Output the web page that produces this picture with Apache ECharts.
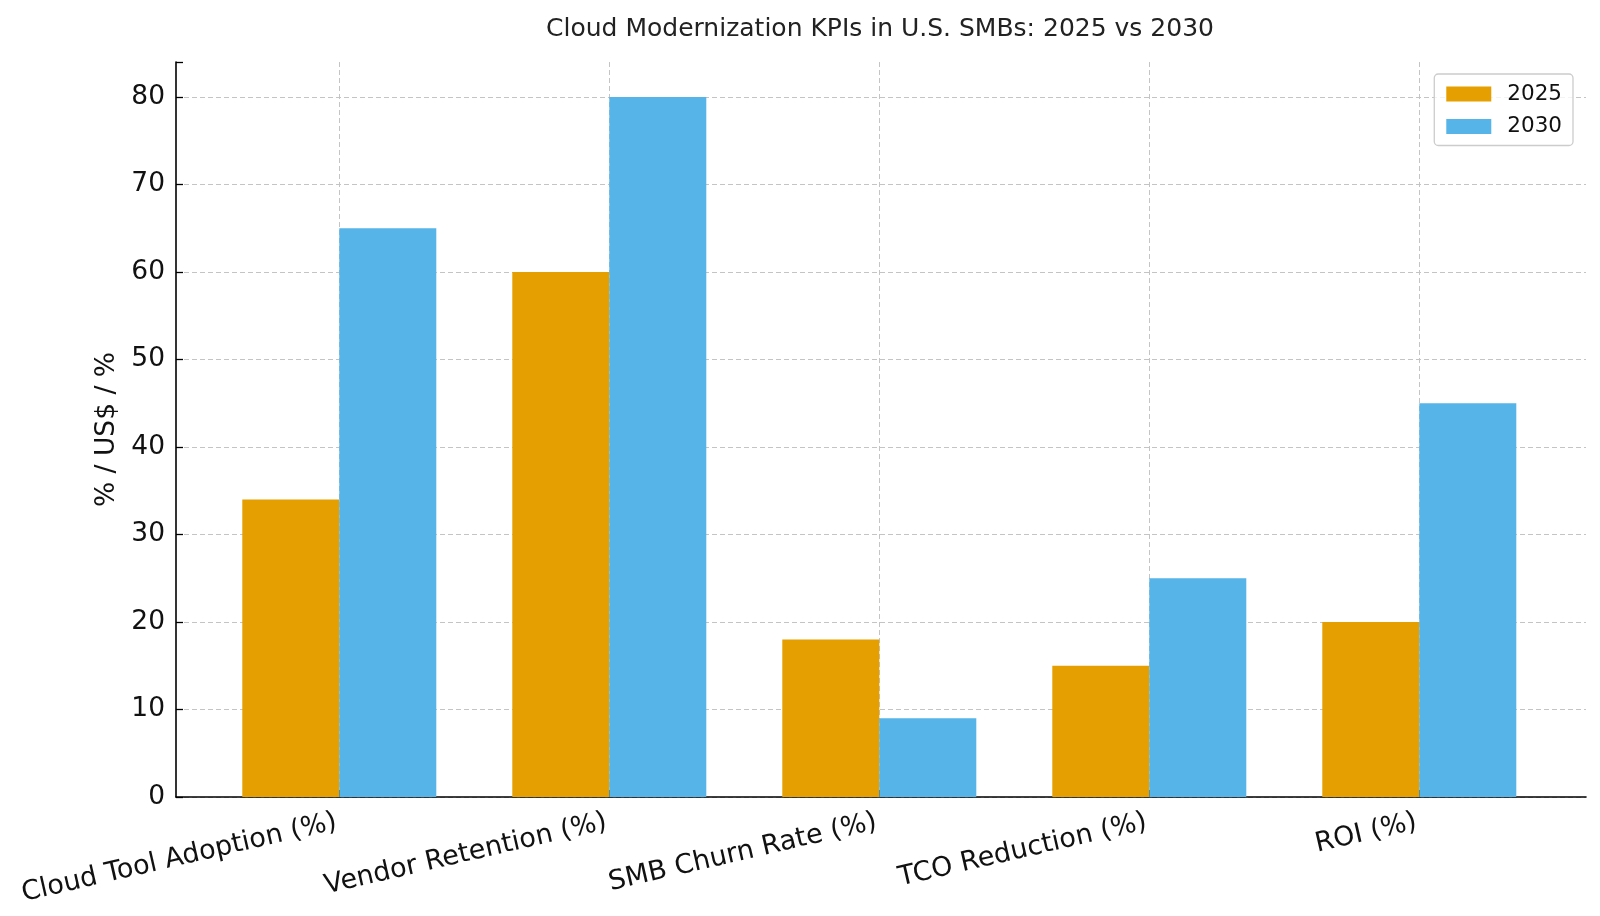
<!DOCTYPE html>
<html><head><meta charset="utf-8">
<script src="https://cdn.jsdelivr.net/npm/echarts@6/dist/echarts.min.js"></script>
<style>html,body{margin:0;padding:0;background:#fff}#c{width:1600px;height:916px}</style>
</head><body><div id="c"></div>
<script>
const categories = ['Cloud Tool Adoption (%)', 'Vendor Retention (%)', 'SMB Churn Rate (%)', 'TCO Reduction (%)', 'ROI (%)'];
const values2025 = [34, 60, 18, 15, 20];
const values2030 = [65, 80, 9, 25, 45];
const seriesNames = ['2025', '2030'];
const yTicks = [0, 10, 20, 30, 40, 50, 60, 70, 80];

const FONT = 'DejaVu Sans';
const chart = echarts.init(document.getElementById('c'), null, {renderer: 'canvas'});
const gridTop = 62, gridBottom = 119;
chart.setOption({
  animation: false,
  textStyle: {fontFamily: FONT},
  title: {
    text: 'Cloud Modernization KPIs in U.S. SMBs: 2025 vs 2030',
    left: 875, top: 12, textAlign: 'center',
    textStyle: {fontFamily: FONT, fontSize: 25, fontWeight: 'normal', color: '#222'}
  },
  legend: {
    data: seriesNames,
    orient: 'vertical',
    icon: 'rect',
    right: 27, top: 74,
    itemWidth: 45, itemHeight: 15, itemGap: 10.5,
    padding: [9, 11, 8, 12],
    borderColor: '#ccc', borderWidth: 1.3, borderRadius: 4,
    backgroundColor: 'rgba(255,255,255,0.8)',
    textStyle: {fontFamily: FONT, fontSize: 21.5, color: '#111', padding: [0, 0, 0, 11]}
  },
  grid: [
    {left: 176, right: 14, top: gridTop, bottom: gridBottom, outerBoundsMode: 'none', containLabel: false},
    {left: 339.3, right: 180.7, top: gridTop, bottom: gridBottom, outerBoundsMode: 'none', containLabel: false}
  ],
  xAxis: [
    {gridIndex: 0, type: 'value', min: 0, max: 1,
     axisLine: {show: true, lineStyle: {color: '#000', width: 1.6}},
     axisTick: {show: false}, axisLabel: {show: false}, splitLine: {show: false}},
    {gridIndex: 1, type: 'category', data: categories, boundaryGap: false,
     axisLine: {show: false},
     axisTick: {show: true, inside: true, length: 7, lineStyle: {color: '#000', width: 1.3}},
     splitLine: {show: true, lineStyle: {color: '#c4c4c4', type: [5, 3], width: 1}},
     axisLabel: {rotate: 13, fontFamily: FONT, fontSize: 27, color: '#111', margin: 24, interval: 0,
       padding: [0, 3, 0, 0]}}
  ],
  yAxis: [
    {gridIndex: 0, type: 'value', min: 0, max: 84, interval: 10,
     name: '% / US$ / %', nameLocation: 'middle', nameGap: 52, nameRotate: 90,
     nameTextStyle: {fontFamily: FONT, fontSize: 26.5, color: '#111'},
     axisLine: {show: true, lineStyle: {color: '#000', width: 1.6}},
     axisTick: {show: true, inside: true, length: 7, lineStyle: {color: '#000', width: 1.3}},
     axisLabel: {fontFamily: FONT, fontSize: 26.5, color: '#111', margin: 11,
       formatter: v => yTicks.includes(v) ? String(v) : ''},
     splitLine: {show: true, showMaxLine: false, lineStyle: {color: '#c4c4c4', type: [5, 3], width: 1}}},
    {gridIndex: 1, type: 'value', min: 0, max: 84, show: false, splitLine: {show: false}}
  ],
  series: [
    {name: seriesNames[0], type: 'bar', xAxisIndex: 1, yAxisIndex: 1, data: values2025,
     barWidth: 97, barGap: '0%', clip: false, itemStyle: {color: '#E69F00'}},
    {name: seriesNames[1], type: 'bar', xAxisIndex: 1, yAxisIndex: 1, data: values2030,
     barWidth: 97, barGap: '0%', clip: false, itemStyle: {color: '#56B4E9'}}
  ]
});
</script></body></html>
